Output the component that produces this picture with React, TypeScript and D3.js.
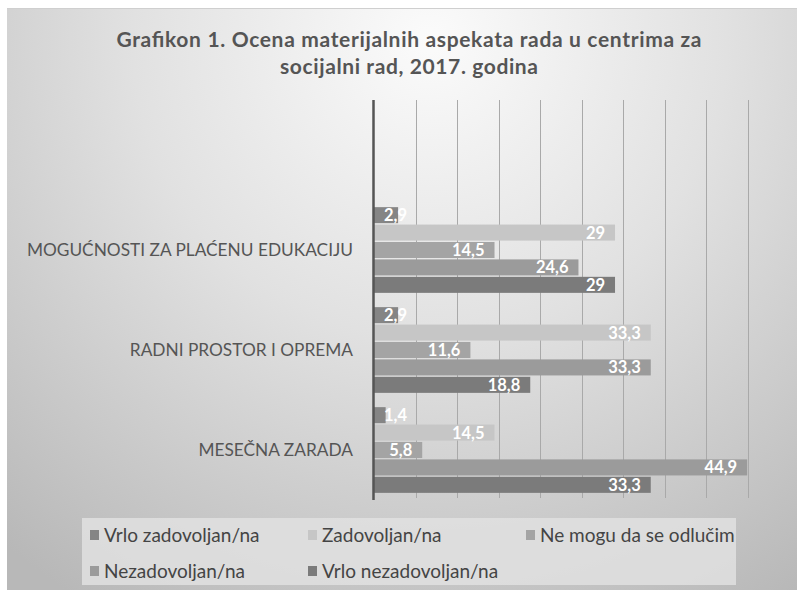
import React from 'react';
import * as d3 from 'd3';

const categories = ['MOGUĆNOSTI ZA PLAĆENU EDUKACIJU', 'RADNI PROSTOR I OPREMA', 'MESEČNA ZARADA'];
const seriesNames = ['Vrlo zadovoljan/na', 'Zadovoljan/na', 'Ne mogu da se odlučim', 'Nezadovoljan/na', 'Vrlo nezadovoljan/na'];
const vrloZadovoljan = [2.9, 2.9, 1.4];
const zadovoljan = [29, 33.3, 14.5];
const neMogu = [14.5, 11.6, 5.8];
const nezadovoljan = [24.6, 33.3, 44.9];
const vrloNezadovoljan = [29, 18.8, 33.3];
const seriesColors = ['#858585', '#c6c6c6', '#a4a4a4', '#9b9b9b', '#7b7b7b'];
const xTicks = [0, 5, 10, 15, 20, 25, 30, 35, 40, 45];

const series = [vrloZadovoljan, zadovoljan, neMogu, nezadovoljan, vrloNezadovoljan];

const W = 797;
const H = 590;
const plotTop = 100;
const plotBottom = 500;

const labelFont = 'bold 16.5px Lato';
let ctx: CanvasRenderingContext2D | null = null;
const measure = (s: string, font: string) => {
    if (!ctx) ctx = document.createElement('canvas').getContext('2d');
    if (!ctx) return s.length * 8;
    ctx.font = font;
    return ctx.measureText(s).width;
};

const fmt = (v: number) => String(v).replace('.', ',');

export default function App() {
    const x = d3.scaleLinear().domain([0, 45]).range([374, 748]);
    // the top quarter of the plot area is left empty, as in the original
    const y = d3.scaleBand<string>().domain(categories).range([plotTop + (plotBottom - plotTop) / 4, plotBottom]);
    const ys = d3.scaleBand<number>()
        .domain(d3.range(series.length))
        .range([0, y.bandwidth()])
        .paddingInner(0.08)
        .paddingOuter(0.41);

    return (
        <>
            <style>{`body{margin:0}`}</style>
            <svg width={W} height={H} style={{ display: 'block', fontFamily: 'Lato, sans-serif' }}>
                <defs>
                    <radialGradient id="bg" gradientUnits="userSpaceOnUse" cx={430} cy={40} r={660}>
                        <stop offset="0" stopColor="#fbfbfb" />
                        <stop offset="0.45" stopColor="#e1e1e1" />
                        <stop offset="1" stopColor="#b8b8b8" />
                    </radialGradient>
                </defs>
                <rect width={W} height={H} fill="#fff" />
                <rect x={7} y={8} width={W - 7} height={H - 8} fill="url(#bg)" />
                <line x1={7} x2={W} y1={8.5} y2={8.5} stroke="#cfcfcf" />

                <text x={409} y={47} textAnchor="middle" fontSize={21} fontWeight="bold" fill="#555"
                    textLength={585} lengthAdjust="spacing">
                    Grafikon 1. Ocena materijalnih aspekata rada u centrima za
                </text>
                <text x={409} y={74} textAnchor="middle" fontSize={21} fontWeight="bold" fill="#555"
                    textLength={258} lengthAdjust="spacing">
                    socijalni rad, 2017. godina
                </text>

                {xTicks.slice(1).map(t => (
                    <line key={t} x1={Math.round(x(t)) + 0.5} x2={Math.round(x(t)) + 0.5} y1={plotTop} y2={plotBottom - 2}
                        stroke="#a9a9a9" strokeWidth={1} />
                ))}

                {categories.map((c, ci) => (
                    <g key={c}>
                        <text x={353} y={(y(c) as number) + y.bandwidth() / 2} dy="0.35em" textAnchor="end"
                            fontSize={17.3} fill="#555">{c}</text>
                        {series.map((vals, si) => {
                            const v = vals[ci];
                            const y0 = (y(c) as number) + (ys(si) as number);
                            const x0 = x(0);
                            const x1 = x(v);
                            const label = fmt(v);
                            const w = measure(label, labelFont);
                            const lx = Math.max(x1 - 10 - w, x0 + 10);
                            return (
                                <g key={si}>
                                    <rect x={x0} y={y0} width={x1 - x0} height={ys.bandwidth()} fill={seriesColors[si]} />
                                    <text x={lx} y={y0 + ys.bandwidth() / 2} dy="0.36em" fontSize={16.5}
                                        fontWeight="bold" fill="#fff">{label}</text>
                                </g>
                            );
                        })}
                    </g>
                ))}

                <line x1={x(0) - 0.5} x2={x(0) - 0.5} y1={plotTop} y2={plotBottom} stroke="#555" strokeWidth={2.5} />

                <rect x={82} y={518} width={654} height={67} fill="#e0e0e0" opacity={0.85} />
                {seriesNames.map((n, i) => {
                    const col = i % 3;
                    const row = Math.floor(i / 3);
                    const lx = 90 + col * 218;
                    const ly = 535 + row * 36;
                    return (
                        <g key={n}>
                            <rect x={lx} y={ly - 5} width={9} height={10} fill={seriesColors[i]} />
                            <text x={lx + 14} y={ly} dy="0.35em" fontSize={19} fill="#444">{n}</text>
                        </g>
                    );
                })}
            </svg>
        </>
    );
}
